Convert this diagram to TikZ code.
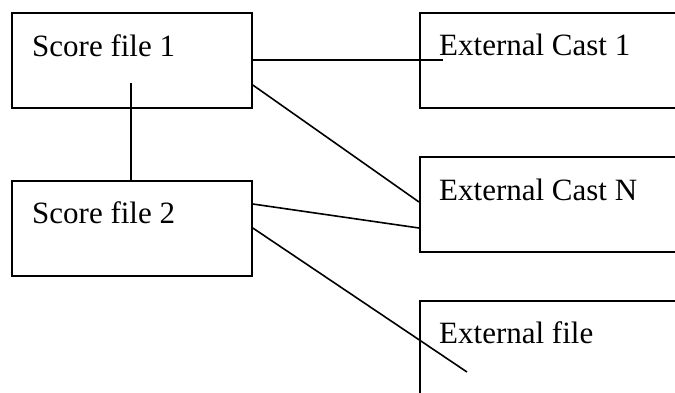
\documentclass[tikz,border=0pt]{standalone}
\usepackage{fontspec}
\setmainfont{Liberation Serif}
\begin{document}
\begin{tikzpicture}[x=1pt,y=1pt,
  filebox/.style={draw, line width=1.8pt, inner sep=0pt, anchor=north west,
    minimum width=240pt, minimum height=95pt},
  castbox/.style={filebox, minimum width=300pt},
  lbl/.style={anchor=base west, inner sep=0pt, font=\fontsize{31}{37}\selectfont},
  link/.style={line width=1.6pt}]
\useasboundingbox (0,0) rectangle (675,-392);
\clip (0,0) rectangle (675,-392);

% score files on the left
\node[filebox] (s1) at (11,-12) {};
\node[filebox] (s2) at (11,-180) {};
\node[lbl] (t1) at (32,-56) {Score file 1};
\node[lbl] (t2) at (32,-223) {Score file 2};

% external resources on the right
\node[castbox] (c1) at (419,-12) {};
\node[castbox] (cn) at (419,-156) {};
\node[castbox] (ef) at (419,-300) {};
\node[lbl] (tc1) at (439,-55) {External Cast 1};
\node[lbl] (tcn) at (439,-200) {External Cast N};
\node[lbl] (tef) at (439,-343) {External file};

% free ends of the connectors
\coordinate (v1) at (131,-83);
\coordinate (h1) at (443,-60);
\coordinate (e1) at (467,-372);

\draw[link] (v1) -- (v1 |- s2.north);
\draw[link] ([yshift=-48pt]s1.north east) -- (h1);
\draw[link] ([yshift=-73pt]s1.north east) -- ([yshift=-46pt]cn.north west);
\draw[link] ([yshift=-24pt]s2.north east) -- ([yshift=-72pt]cn.north west);
\draw[link] ([yshift=-48pt]s2.north east) -- (e1);
\end{tikzpicture}
\end{document}
